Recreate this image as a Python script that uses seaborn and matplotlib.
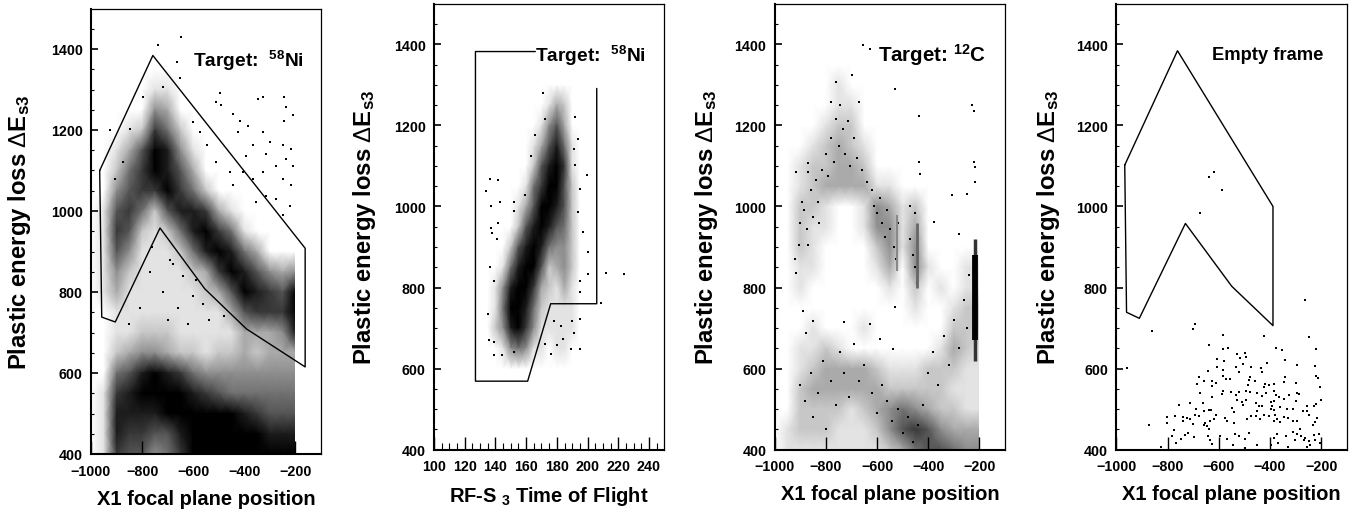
# Four dE vs position / time of flight panels.
# Dense clouds are kept as a coarse darkness grid (0 = white, 9 = black),
# sparse events are kept as single points.
import numpy as np
import pandas as pd
import seaborn as sns
import matplotlib
matplotlib.use("Agg")
import matplotlib.pyplot as plt

# darkness rows, top row is y = 1400, step 50 down to y = 400, columns x = -1000 .. -200 step 50
ni_x1_rows = [
    "00000000000000000",
    "00000000000000000",
    "00000110000000000",
    "00000430000000000",
    "00012752000000000",
    "00136984100000000",
    "00257986300000000",
    "00467797520000000",
    "01675268873100000",
    "01762125897510000",
    "01641112589853000",
    "01421111237986434",
    "01311111123698769",
    "00111111111367779",
    "00112221111133348",
    "00234432212232333",
    "00568987544444444",
    "01789999876555555",
    "01888899999987666",
    "01877668999999888",
    "01766457999999999",
]
c_x1_rows = [
    "00000000000000000",
    "00000000000000000",
    "00000100000000000",
    "00000110000000000",
    "00001220000000000",
    "00012321000000000",
    "00122332000000000",
    "00123333110000000",
    "00221001431200000",
    "00211001441300000",
    "00210000241400000",
    "00110000130410011",
    "00100000010201011",
    "00000000000100122",
    "00010001000000222",
    "00112100000001321",
    "00123333211122211",
    "00233333322222111",
    "00222212345432211",
    "01222111246764333",
    "01111111123566544",
]
# top row is y = 1300, step 50 down to y = 600, columns tof = 125 .. 205 step 5
ni_tof_rows = [
    "00000000000000000",
    "00000000001320000",
    "00000000014630000",
    "00000000136851000",
    "00000000268971000",
    "00000001579962000",
    "00000013699862000",
    "00000026898652000",
    "00000268985442000",
    "00001589962342000",
    "00014899732131000",
    "00015998521111000",
    "00024897411111000",
    "00001454110110000",
    "00000000000000000",
]

# gates
gate_x1_x = [-966, -758, -162, -162, -392, -555, -730, -905, -958, -966]
gate_x1_y = [1100, 1384, 908, 615, 709, 808, 958, 726, 738, 1100]
gate_tof_x = [166, 127, 127, 161, 176, 206, 206]
gate_tof_y = [1382, 1382, 569, 569, 760, 760, 1291]
gate_empty_x = [-967, -761, -388, -388, -549, -730, -910, -960, -967]
gate_empty_y = [1102, 1384, 1000, 706, 803, 958, 724, 739, 1102]

# narrow dense streaks of the carbon panel (x, y low, y high)
c_streak_x = [-217, -217, -442, -522]
c_streak_lo = [620, 670, 800, 840]
c_streak_hi = [920, 880, 960, 980]

# single events
ni_x1_ev_x = [-648, -736, -665, -652, -717, -496, -490, -509, -327, -347, -243, -236, -210, -243,
              -444, -418, -386, -327, -425, -301, -366, -249, -217, -314, -392, -236, -275, -210,
              -327, -366, -405, -249, -217, -314, -275, -353, -223, -249, -444, -457, -509, -548,
              -574, -600, -795, -847, -873, -905, -925, -690, -640, -600, -720, -770, -660, -560,
              -810, -850, -700, -620, -540, -480, -760, -680, -590]
ni_x1_ev_y = [1429, 1411, 1369, 1328, 1305, 1291, 1262, 1268, 1281, 1277, 1281, 1256, 1236, 1223,
              1240, 1223, 1211, 1194, 1194, 1170, 1162, 1162, 1153, 1141, 1137, 1129, 1112, 1112,
              1096, 1079, 1096, 1079, 1063, 1038, 1030, 1022, 1013, 989, 1063, 1096, 1120, 1162,
              1194, 1219, 1281, 1203, 1120, 1079, 1199, 880, 840, 790, 800, 850, 760, 770,
              760, 720, 730, 720, 730, 740, 910, 870, 830]
ni_tof_ev_x = [136.5, 142, 134, 143, 137, 152, 152, 142, 137, 138, 141, 136.5, 139, 135, 212, 223.5,
               209, 200, 199.6, 194, 192, 171, 172, 166, 163, 159, 195, 190, 189, 195, 180, 176,
               172, 139, 136, 144, 139, 152, 183, 191, 184, 178, 195, 195, 200, 197, 194, 195,
               192, 191]
ni_tof_ev_y = [1068, 1064, 1037, 1012, 1000, 1010, 988, 959, 947, 934, 920, 850, 817, 735, 836, 833,
               762, 833, 1078, 1166, 1220, 1279, 1216, 1175, 1125, 1027, 722, 718, 648, 648, 657, 636,
               661, 665, 671, 634, 634, 642, 706, 689, 673, 718, 788, 817, 887, 936, 986, 1043,
               1101, 1142]
c_x1_ev_x = [-656, -627, -699, -760, -529, -669, -780, -229, -220, -435, -222, -216, -216, -306,
             -249, -438, -434, -868, -917, -871, -379, -281, -890, -877, -849, -731, -627, -529,
             -588, -536,
             -920, -915, -905, -900, -895, -885, -875, -870, -860, -850, -840, -830, -825, -815,
             -800, -790, -780, -770, -760, -750, -745, -735, -725, -715, -705, -690, -680, -660,
             -640, -620, -610, -600, -590, -580, -570, -560, -550, -535, -525, -520, -470, -460,
             -450, -445, -470, -450,
             -900, -880, -860, -850, -830, -810, -800, -780, -760, -745, -730, -710, -690, -670,
             -650, -620, -600, -580, -560, -540, -520, -500, -480, -460, -440, -420, -400, -380,
             -360, -340, -320, -300, -280, -260, -240, -250]
c_x1_ev_y = [1397, 1388, 1325, 1308, 1290, 1257, 1257, 1249, 1236, 1224, 1109, 1097, 1060, 1028,
             1031, 1109, 1080, 1107, 1084, 1084, 961, 932, 743, 689, 718, 714, 710, 751,
             673, 648,
             870, 835, 905, 960, 1010, 990, 945, 905, 1040, 975, 1065, 1010, 960, 1090,
             1130, 1075, 1170, 1110, 1215, 1150, 1250, 1190, 1130, 1210, 1100, 1170, 1120, 1090,
             1060, 1040, 1000, 985, 1020, 960, 925, 990, 945, 900, 870, 960, 920, 880,
             850, 810, 1000, 985,
             560, 520, 590, 480, 540, 620, 450, 570, 510, 640, 590, 530, 660, 570,
             610, 540, 490, 560, 520, 470, 500, 440, 480, 420, 460, 510, 590, 640,
             560, 680, 610, 720, 650, 770, 830, 700]
empty_ev_x = [-957, -861, -699, -692, -583, -422, -263, -247, -638, -565, -582, -375, -351, -221,
              -606, -579, -529, -498, -517, -494, -340, -410, -294, -223, -640, -608, -583, -533,
              -507, -473, -435, -430, -676, -582, -570, -555, -521, -477, -481, -460, -341, -344,
              -218, -213, -659, -627, -609, -685, -625, -484, -418, -384, -404, -299, -204, -673,
              -583, -586, -553, -532, -519, -493, -477, -451, -431, -423, -416, -385, -376, -365,
              -346, -327, -295, -286, -202, -626, -712, -757, -663, -529, -510, -507, -494, -455,
              -444, -431, -395, -385, -390, -359, -297, -257, -219, -689, -657, -638, -630, -548,
              -540, -451, -397, -385, -379, -333, -311, -270, -255, -229, -246, -693, -676, -725,
              -741, -770, -801, -801, -872, -712, -739, -699, -654, -634, -620, -609, -576, -566,
              -540, -490, -473, -453, -440, -422, -402, -385, -372, -359, -346, -328, -311, -294,
              -215, -222, -231, -656, -639, -647, -775, -720, -732, -697, -783, -765, -748, -642,
              -634, -627, -595, -538, -519, -497, -480, -566, -451, -497, -545, -827, -372, -385,
              -367, -396, -336, -311, -303, -294, -278, -284, -268, -261, -249, -242, -223, -226,
              -209, -205, -329, -255, -618, -639, -588, -675]
empty_ev_y = [602, 692, 697, 709, 684, 680, 770, 677, 658, 651, 648, 652, 645, 649,
              624, 620, 637, 639, 627, 629, 621, 615, 610, 606, 594, 604, 597, 605,
              611, 603, 602, 592, 580, 582, 575, 574, 592, 580, 573, 570, 580, 567,
              582, 577, 569, 570, 564, 561, 558, 560, 563, 563, 559, 564, 555, 541,
              546, 537, 542, 534, 542, 544, 542, 541, 532, 554, 539, 546, 536, 530,
              526, 536, 540, 538, 522, 530, 515, 510, 515, 523, 518, 511, 523, 516,
              508, 509, 518, 521, 508, 505, 519, 509, 513, 501, 496, 497, 499, 503,
              493, 495, 501, 497, 486, 500, 500, 495, 495, 508, 486, 486, 483, 478,
              481, 482, 481, 465, 462, 475, 471, 464, 467, 472, 476, 485, 478, 470,
              465, 476, 483, 482, 475, 486, 482, 472, 476, 468, 481, 478, 472, 470,
              478, 468, 462, 462, 452, 458, 448, 442, 437, 431, 433, 417, 427, 435,
              423, 415, 435, 439, 434, 427, 442, 426, 411, 404, 411, 406, 439, 429,
              417, 411, 435, 444, 425, 439, 435, 450, 423, 429, 422, 411, 425, 437,
              439, 417, 406, 406, 1084, 1073, 1041, 985]

x_label_x1 = "X1 focal plane position"
x_label_tof = "RF-S$_{\\ 3}$ Time of Flight"
y_label = "Plastic energy loss $\\mathrm{\\Delta}$E$_{s3}$"
x1_ticks = [-1000, -800, -600, -400, -200]
tof_ticks = list(range(100, 260, 20))
y_ticks = [400, 600, 800, 1000, 1200, 1400]

sns.set_theme(style="white")
plt.rcParams["font.family"] = ["Liberation Sans", "DejaVu Sans"]
plt.rcParams["font.weight"] = "bold"
plt.rcParams["text.color"] = "black"
plt.rcParams["axes.labelcolor"] = "black"
plt.rcParams["xtick.labelcolor"] = "black"
plt.rcParams["ytick.labelcolor"] = "black"
plt.rcParams["mathtext.fontset"] = "custom"
plt.rcParams["mathtext.rm"] = "Liberation Sans:weight=normal"
plt.rcParams["mathtext.default"] = "regular"

W, H = 1359, 510
fig = plt.figure(figsize=(W / 100, H / 100), dpi=100)
gris = sns.blend_palette(["white", "black"], as_cmap=True)


def novo_painel(left, right, top, bottom, xlim, xticks, xminor, label_x, label_xc, label_top, label_yc, xlabel):
    ax = fig.add_axes([left / W, 1 - bottom / H, (right - left) / W, (bottom - top) / H], zorder=3)
    ax.set_facecolor("none")
    ax.set_xlim(xlim)
    ax.set_ylim(400, 1500)
    ax.set_xticks(xticks)
    ax.set_yticks(y_ticks)
    ax.set_yticks(list(range(400, 1500, 50)), minor=True)
    if xminor:
        ax.set_xticks(xminor, minor=True)
    ax.tick_params(axis="x", which="major", direction="in", length=9.5, width=1.0, pad=7,
                   labelsize=10.3, bottom=True, color="black")
    ax.tick_params(axis="x", which="minor", direction="in", length=5, width=0.8, bottom=True, color="black")
    ax.tick_params(axis="y", which="major", direction="in", length=5, width=1.2, pad=6,
                   labelsize=10.3, left=True, color="black")
    ax.tick_params(axis="y", which="minor", direction="in", length=2, width=0.8, left=True, color="black")
    for lado, lw in [("left", 1.5), ("bottom", 1.5), ("top", 0.9), ("right", 0.9)]:
        ax.spines[lado].set_linewidth(lw)
        ax.spines[lado].set_color("black")
    ax.set_xlabel(xlabel, fontsize=14.5, fontweight="bold", color="black")
    ax.set_ylabel(y_label, fontsize=17.2, fontweight="bold", color="black")
    ax.xaxis.set_label_coords((label_xc - left) / (right - left), (bottom - label_top) / (bottom - top))
    ax.yaxis.set_label_coords((label_x - left) / (right - left), (bottom - label_yc) / (bottom - top))
    return ax


def grade(ax, rows, x0, x1, y0, y1):
    # heatmap in its own axes placed exactly under the data range of the panel
    cells = np.array([[int(c) for c in r] for r in rows])
    pos = ax.get_position()
    xa, xb = ax.get_xlim()
    ya, yb = ax.get_ylim()
    hax = fig.add_axes([pos.x0 + (x0 - xa) / (xb - xa) * pos.width,
                        pos.y0 + (y0 - ya) / (yb - ya) * pos.height,
                        (x1 - x0) / (xb - xa) * pos.width,
                        (y1 - y0) / (yb - ya) * pos.height], zorder=1)
    sns.heatmap(cells, ax=hax, cmap=gris, vmin=0, vmax=9, cbar=False, xticklabels=False,
                yticklabels=False, shading="gouraud")
    hax.set_xlim(0, cells.shape[1] - 1)
    hax.set_ylim(cells.shape[0] - 1, 0)
    hax.axis("off")


def eventos(ax, xs, ys, size=1.1):
    sns.scatterplot(data=pd.DataFrame({"x": xs, "y": ys}), x="x", y="y", ax=ax, color="black",
                    s=size, marker="s", linewidth=0, legend=False)


def porta(ax, xs, ys):
    sns.lineplot(x=xs, y=ys, ax=ax, color="black", linewidth=1.0, sort=False, estimator=None,
                 legend=False)


# painel 1: 58Ni, posicao
ax1 = novo_painel(91, 321, 9.5, 455, (-1000, -100), x1_ticks, None, 33, 200, 490, 232, x_label_x1)
grade(ax1, ni_x1_rows, -1000, -200, 400, 1400)
eventos(ax1, ni_x1_ev_x, ni_x1_ev_y)
porta(ax1, gate_x1_x, gate_x1_y)
ax1.set(xlabel=x_label_x1, ylabel=y_label)
fig.text(193 / W, 1 - 61 / H, "Target:  $^{58}$Ni", fontsize=13.8, fontweight="bold", va="center", zorder=5)

# painel 2: 58Ni, tempo de voo
ax2 = novo_painel(434, 664.3, 4.7, 450.7, (100, 250), tof_ticks, list(range(100, 250, 5)), 378, 559, 485, 227, x_label_tof)
grade(ax2, ni_tof_rows, 125, 205, 600, 1300)
eventos(ax2, ni_tof_ev_x, ni_tof_ev_y)
porta(ax2, gate_tof_x, gate_tof_y)
ax2.set(xlabel=x_label_tof, ylabel=y_label)
fig.text(535 / W, 1 - 56 / H, "Target:  $^{58}$Ni", fontsize=13.8, fontweight="bold", va="center", zorder=5)

# painel 3: 12C, posicao
ax3 = novo_painel(774.7, 1005, 4.7, 450.7, (-1000, -100), x1_ticks, None, 720, 883, 485, 227, x_label_x1)
grade(ax3, c_x1_rows, -1000, -200, 400, 1400)
eventos(ax3, c_x1_ev_x, c_x1_ev_y)
larguras = [2.5, 4.2, 2.0, 1.5]
tons = ["#333333", "black", "#666666", "#888888"]
for sx, lo, hi, lw, tom in zip(c_streak_x, c_streak_lo, c_streak_hi, larguras, tons):
    sns.lineplot(x=[sx, sx], y=[lo, hi], ax=ax3, color=tom, linewidth=lw, estimator=None, legend=False,
                 solid_capstyle="butt")
ax3.set(xlabel=x_label_x1, ylabel=y_label)
fig.text(878 / W, 1 - 55 / H, "Target: $^{12}$C", fontsize=14.8, fontweight="bold", va="center", zorder=5)

# painel 4: alvo vazio
ax4 = novo_painel(1116.3, 1346.7, 4.7, 450.7, (-1000, -100), x1_ticks, None, 1062, 1225, 485, 227, x_label_x1)
eventos(ax4, empty_ev_x, empty_ev_y, size=0.9)
porta(ax4, gate_empty_x, gate_empty_y)
ax4.set(xlabel=x_label_x1, ylabel=y_label)
fig.text(1212.5 / W, 1 - 55 / H, "Empty frame", fontsize=13.2, fontweight="bold", va="center", zorder=5)

fig.savefig("out.png", dpi=100)
